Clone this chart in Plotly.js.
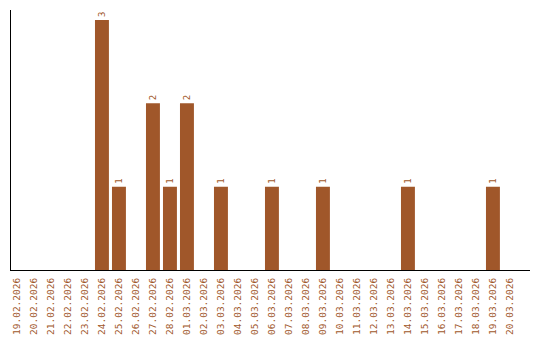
<!DOCTYPE html>
<html><head><meta charset="utf-8">
<script src="https://cdn.plot.ly/plotly-3.0.1.min.js"></script>
<style>body{margin:0;background:#fff}#chart{width:540px;height:340px}</style>
</head><body><div id="chart"></div>
<script>
const dates = ["19.02.2026","20.02.2026","21.02.2026","22.02.2026","23.02.2026","24.02.2026","25.02.2026","26.02.2026","27.02.2026","28.02.2026","01.03.2026","02.03.2026","03.03.2026","04.03.2026","05.03.2026","06.03.2026","07.03.2026","08.03.2026","09.03.2026","10.03.2026","11.03.2026","12.03.2026","13.03.2026","14.03.2026","15.03.2026","16.03.2026","17.03.2026","18.03.2026","19.03.2026","20.03.2026"];
const counts = [0,0,0,0,0,3,1,0,2,1,2,0,1,0,0,1,0,0,1,0,0,0,0,1,0,0,0,0,1,0];
const labels = counts.map(v => v > 0 ? String(v) : "");
const color = "#a0572a";
Plotly.newPlot("chart", [{
  type: "bar", x: dates, y: counts, text: labels,
  textposition: "outside", textangle: -90, cliponaxis: false,
  textfont: {family: "DejaVu Sans Mono", size: 9, color: color},
  marker: {color: color}, width: 0.82, hoverinfo: "none"
}], {
  width: 540, height: 340,
  margin: {l: 11, r: 10, t: 10, b: 70},
  paper_bgcolor: "#fff", plot_bgcolor: "#fff",
  showlegend: false,
  xaxis: {type: "category", range: [-0.35, 30.18], showgrid: false, zeroline: false,
    showline: true, linecolor: "#000", linewidth: 1, ticks: "", tickangle: -90,
    ticklabelstandoff: 3,
    tickfont: {family: "DejaVu Sans Mono", size: 9.5, color: color}},
  yaxis: {range: [0, 3.12], showgrid: false, zeroline: false, showline: true,
    linecolor: "#000", linewidth: 1, showticklabels: false, ticks: ""}
}, {staticPlot: true});
</script></body></html>
